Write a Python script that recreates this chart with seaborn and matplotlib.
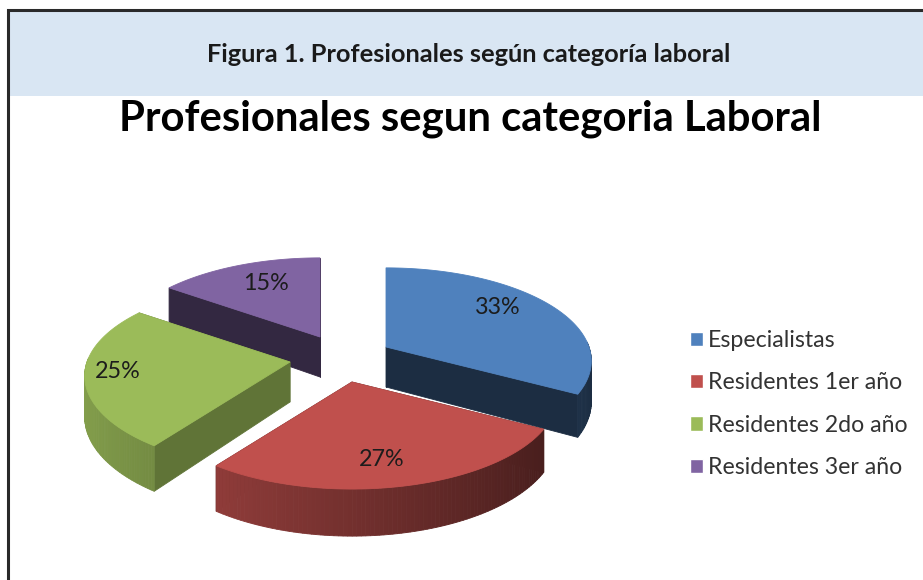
import numpy as np
import seaborn as sns
import matplotlib
matplotlib.use('Agg')
import matplotlib.pyplot as plt
from matplotlib.patches import Polygon, Patch, Rectangle

# Data
categories = ['Especialistas', 'Residentes 1er año', 'Residentes 2do año', 'Residentes 3er año']
percent = [33, 27, 25, 15]
slice_colors = ['#4f81bd', '#c0504d', '#9bbb59', '#8064a2']

header = 'Figura 1. Profesionales según categoría laboral'
title = 'Profesionales segun categoria Laboral'

# Fake 3D pie layout, in pixels
apex = {0: (386, 347), 1: (352, 382), 2: (290, 362), 3: (320, 337)}
label_pos = {0: (498, 308), 1: (382, 459), 2: (118, 372), 3: (266, 283)}
cut_shade = {0: 0.35, 1: 0.4, 2: 0.62, 3: 0.4}
rx, ry, persp, depth = 203, 91, 0.15, 40
draw_order = [3, 0, 2, 1]

sns.set_theme(style='white')
plt.rcParams['font.family'] = ['Lato', 'DejaVu Sans']
palette = sns.color_palette(slice_colors)

fig = plt.figure(figsize=(9.23, 5.8), dpi=100)
ax = fig.add_axes([0, 0, 1, 1])

# The library works out the angles, then wedges get projected by hand
wedges, _ = ax.pie(percent, startangle=90, counterclock=False, colors=palette)
angles = [(w.theta1, w.theta2) for w in wedges]
for w in wedges:
    w.remove()
ax.set_aspect('auto')
ax.set_xlim(0, 923)
ax.set_ylim(580, 0)
ax.set_axis_off()


def project(theta, r, center):
    u = r * np.cos(np.radians(theta))
    v = r * np.sin(np.radians(theta))
    s = 1 / (1 + persp * v)
    return center[0] + rx * u * s, center[1] - ry * v * s, depth * s


def darker(color, f):
    return tuple(c * f for c in color)


def add_poly(pts, color, z):
    ax.add_patch(Polygon(pts, closed=True, facecolor=color, edgecolor=color, lw=0.6, zorder=z))


# Header band and frame
ax.add_patch(Rectangle((9, 11), 914, 85, facecolor='#d9e6f3', edgecolor='none', zorder=1))
ax.plot([8, 8, 923], [580, 10, 10], color='#2a2a2a', lw=2.2, zorder=2, solid_joinstyle='miter')
ax.text(469, 54, header, ha='center', va='center', fontsize=18.3, fontweight='bold', color='#1a1a1a', zorder=3)
ax.text(470, 119, title, ha='center', va='center', fontsize=30.2, fontweight='bold', color='black', zorder=3)

z = 5
for i in draw_order:
    t1, t2 = angles[i]
    c = apex[i]
    col = palette[i]
    ts = np.linspace(t1, t2, 90)
    ax0, ay0, d0 = project(0, 0, c)

    # sides along the two cuts
    for t in (t1, t2):
        x, y, d = project(t, 1, c)
        add_poly([(ax0, ay0), (x, y), (x, y + d), (ax0, ay0 + d0)], darker(col, cut_shade[i]), z)
    z += 1

    # outer rim, only the part that faces the viewer
    for a, b in zip(ts[:-1], ts[1:]):
        if np.sin(np.radians((a + b) / 2)) > 0.05:
            continue
        xa, ya, da = project(a, 1, c)
        xb, yb, db = project(b, 1, c)
        shade = 0.6 - 0.25 * np.cos(np.radians((a + b) / 2))
        add_poly([(xa, ya), (xb, yb), (xb, yb + db), (xa, ya + da)], darker(col, shade), z)
    z += 1

    # top face
    rim = [project(t, 1, c)[:2] for t in ts]
    add_poly([(ax0, ay0)] + rim, col, z)
    z += 1

for i, p in enumerate(percent):
    ax.text(label_pos[i][0], label_pos[i][1], f'{p}%', ha='center', va='center',
            fontsize=16.8, color='#1c1c1c', zorder=50)

handles = [Patch(facecolor=palette[i], label=categories[i]) for i in range(len(categories))]
leg = ax.legend(handles=handles, loc='upper left', bbox_to_anchor=(690 / 923, 1 - 330 / 580),
                frameon=False, fontsize=16.7, labelspacing=0.92, handlelength=0.56, handleheight=0.56,
                handletextpad=0.22, borderpad=0, borderaxespad=0, labelcolor='#333333')

plt.savefig('out.png', dpi=100)
